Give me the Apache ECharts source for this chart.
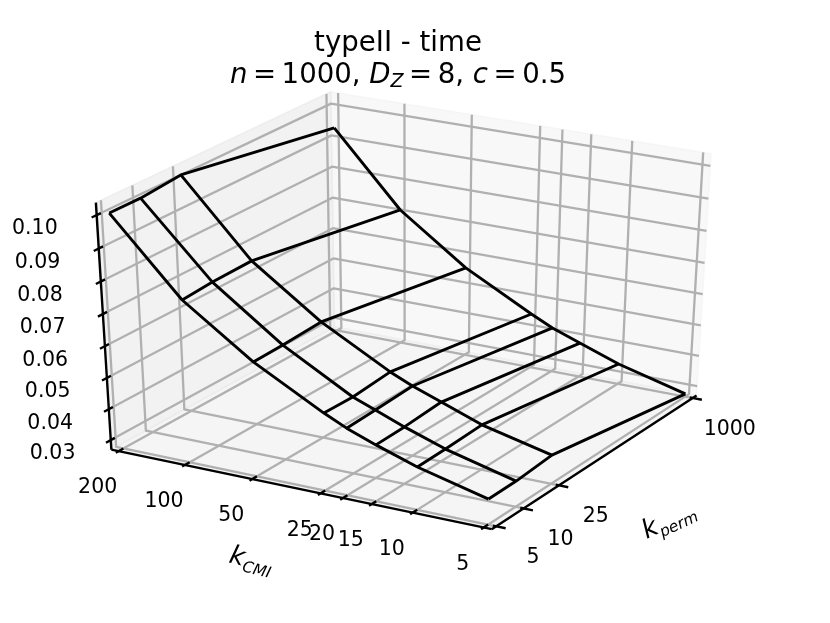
<!DOCTYPE html><html><head><meta charset="utf-8"><script src="https://cdn.jsdelivr.net/npm/echarts@6/dist/echarts.min.js"></script></head><body style="margin:0;background:#fff"><div id="c" style="width:830px;height:623px"></div><script>
// ---- data ----
const kCMI=[5,10,15,20,25,50,100,200];
const kperm=[5,10,25,1000];
const timeK5=[.0350,.0405,.0448,.0482,.0515,.0631,.0780,.1003];
const timeK10=[.0351,.0407,.0451,.0486,.0513,.0633,.0787,.1003];
const timeK25=[.0361,.0413,.0460,.0493,.0524,.0640,.0790,.1015];
const timeK1000=[.0278,.0335,.0380,.0413,.0446,.0558,.0708,.0934];
const timeTicks=[.03,.04,.05,.06,.07,.08,.09,.10];
const timeLabels=['0.03','0.04','0.05','0.06','0.07','0.08','0.09','0.10'];
const times=[timeK5,timeK10,timeK25,timeK1000];
const zlo=.0269,zhi=.1037;
// ---- view (elev 30, azim 30, dist 10) ----
const Sx=439,Sy=282,ox=408.5,oy=303,FONT='"DejaVu Sans"';
const pad=1/48;
function P(u,v,w){const a=u-.5,b=v-.5,c=w-.5;const X=.5*a-.8660254*b,Y=.4330127*a+.25*b+.8660254*c,D=.75*a+.4330127*b-.5*c,f=10/(10+D);return [ox+Sx*X*f,oy-Sy*Y*f];}
const m=t=>(pad+t)/(1+2*pad);
const U=k=>m((Math.log10(k)-Math.log10(5))/(Math.log10(1000)-Math.log10(5)));
const V=k=>m((Math.log10(k)-Math.log10(5))/(Math.log10(200)-Math.log10(5)));
const W=z=>(z-zlo)/(zhi-zlo);
const line=(name,pts,color,width)=>({name,type:'line',data:pts,symbol:'none',clip:false,silent:true,animation:false,lineStyle:{color,width,cap:'butt',join:'round'},z:name==='wire'?5:(name==='grid'?2:4)});
const GRID='#b0b0b0',GW=2.3,AW=2.4,WW=2.9;
const series=[];
// panes
const panes=[
 {c:[[1,0,0],[1,1,0],[1,1,1],[1,0,1]],f:'rgba(242,242,242,0.5)'},
 {c:[[0,1,0],[1,1,0],[1,1,1],[0,1,1]],f:'rgba(230,230,230,0.5)'},
 {c:[[0,0,0],[1,0,0],[1,1,0],[0,1,0]],f:'rgba(236,236,236,0.5)'}];
series.push({type:'custom',silent:true,animation:false,clip:false,z:1,data:panes.map((p,i)=>[i]),renderItem:(pa,api)=>{const p=panes[api.value(0)];return {type:'polygon',shape:{points:p.c.map(q=>api.coord(P(...q)))},style:{fill:p.f,stroke:p.f,lineWidth:1.5}};}});
// gridlines
kperm.forEach(q=>series.push(line('grid',[P(U(q),0,0),P(U(q),1,0),P(U(q),1,1)],GRID,GW)));
kCMI.forEach(k=>series.push(line('grid',[P(0,V(k),0),P(1,V(k),0),P(1,V(k),1)],GRID,GW)));
timeTicks.forEach(z=>series.push(line('grid',[P(0,1,W(z)),P(1,1,W(z)),P(1,0,W(z))],GRID,GW)));
// axes lines + ticks
series.push(line('axis',[P(0,1,0),P(0,0,0)],'#000',AW));
series.push(line('axis',[P(0,0,0),P(1,0,0)],'#000',AW));
series.push(line('axis',[P(0,1,0),P(0,1,1)],'#000',AW));
kCMI.forEach(k=>series.push(line('axis',[P(-.012,V(k),0),P(.02,V(k),0)],'#000',AW)));
kperm.forEach(q=>series.push(line('axis',[P(U(q),-.024,0),P(U(q),.008,0)],'#000',AW)));
timeTicks.forEach(z=>series.push(line('axis',[P(-.02,1,W(z)),P(.017,1,W(z))],'#000',AW)));
// wireframe
kperm.forEach((q,j)=>series.push(line('wire',kCMI.map((k,i)=>P(U(q),V(k),W(times[j][i]))),'#000',WW)));
kCMI.forEach((k,i)=>series.push(line('wire',kperm.map((q,j)=>P(U(q),V(k),W(times[j][i]))),'#000',WW)));
// tick labels
const labels=[];
kCMI.forEach(k=>{const p=P(0,V(k),0);labels.push([p[0]-21,p[1]+37,String(k)]);});
kperm.forEach(q=>{const p=P(U(q),0,0);labels.push([p[0]+37,p[1]+31.5,String(q)]);});
timeTicks.forEach((z,i)=>{const p=P(0,1,W(z));labels.push([p[0]-58-4*W(z),p[1]+14,timeLabels[i]]);});
series.push({type:'custom',silent:true,animation:false,clip:false,z:6,data:labels,dimensions:['x','y',{name:'t',type:'ordinal'}],renderItem:(pa,api)=>{const d=labels[pa.dataIndex],c=api.coord([d[0],d[1]]);return {type:'text',x:c[0],y:c[1],style:{text:d[2],fontFamily:FONT,fontSize:20.5,fill:'#000',textAlign:'center',textVerticalAlign:'middle'}};}});
const math=(size,sub)=>({i:{fontFamily:FONT,fontStyle:'italic',fontSize:size,lineHeight:32,verticalAlign:'middle',fill:'#000',color:'#000'},r:{fontFamily:FONT,fontSize:size,lineHeight:32,verticalAlign:'middle',fill:'#000',color:'#000'},e:{fontFamily:FONT,fontSize:size,lineHeight:32,verticalAlign:'middle',padding:[0,5.5,0,5.5],fill:'#000',color:'#000'},s:{fontFamily:FONT,fontStyle:'italic',fontSize:sub,lineHeight:20,verticalAlign:'bottom',fill:'#000',color:'#000'}});
const chart=echarts.init(document.getElementById('c'),null,{renderer:'canvas'});
chart.setOption({animation:false,backgroundColor:'#fff',
 grid:{left:0,right:0,top:0,bottom:0},
 xAxis:{type:'value',min:0,max:830,show:false},
 yAxis:{type:'value',min:0,max:623,inverse:true,show:false},
 title:{text:'typeII - time\n{i|n}{e|=}{r|1000,} {i|D}{s|Z}{e|=}{r|8,} {i|c}{e|=}{r|0.5}',left:393,top:23,textAlign:'center',
  textStyle:{fontFamily:FONT,fontWeight:'normal',fontSize:27.6,lineHeight:32,color:'#000',rich:math(27.6,19)}},
 graphic:[
  {type:'text',x:669,y:521,rotation:25*Math.PI/180,z:10,style:{text:'{i|k}{s|perm}',rich:math(26,15.5),textAlign:'center',textVerticalAlign:'middle'}},
  {type:'text',x:251,y:561,rotation:-14*Math.PI/180,z:10,style:{text:'{i|k}{s|CMI}',rich:math(26,15.5),textAlign:'center',textVerticalAlign:'middle'}}
 ],
 series});
</script></body></html>
